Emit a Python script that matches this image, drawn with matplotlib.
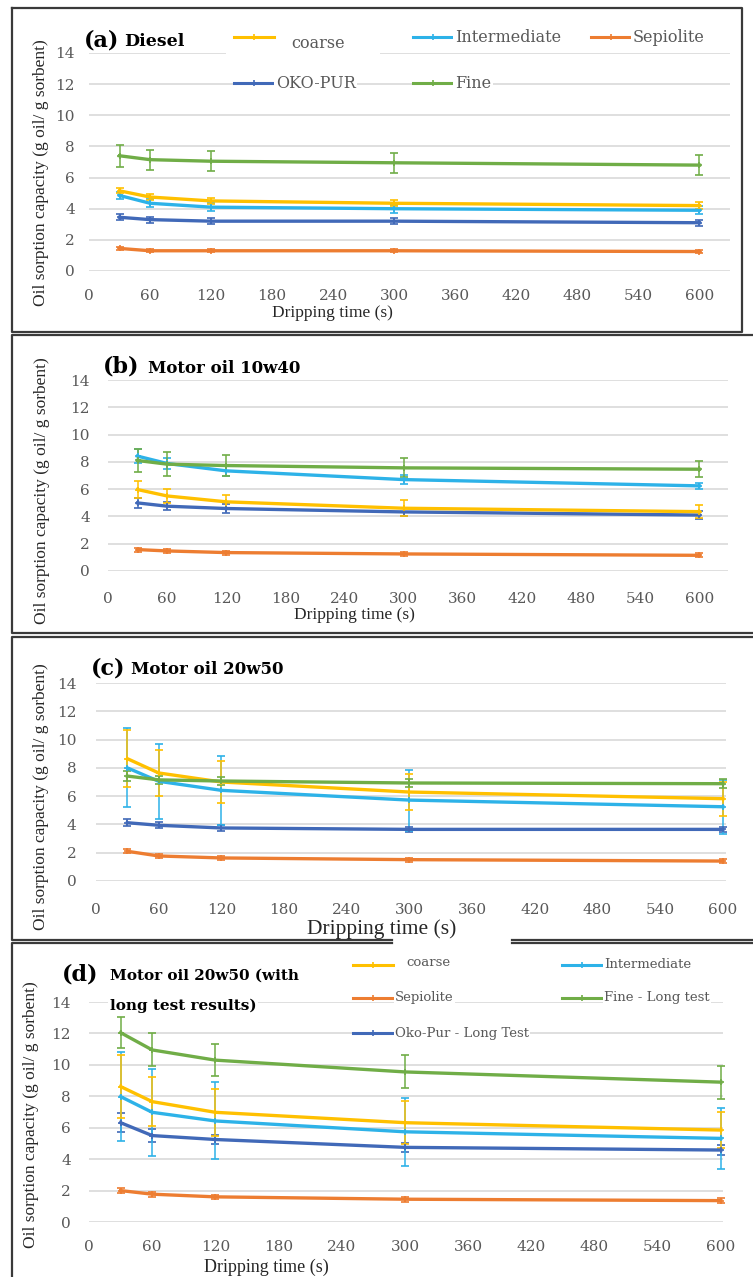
import matplotlib.pyplot as plt
from matplotlib.lines import Line2D
from matplotlib.patches import Rectangle

W, H = 753, 1277

time_s = [30, 60, 120, 300, 600]
x_ticks = list(range(0, 601, 60))
y_ticks = list(range(0, 15, 2))

# (a) Diesel
diesel_coarse = [5.15, 4.75, 4.5, 4.35, 4.2]
diesel_coarse_err = [0.15, 0.2, 0.2, 0.2, 0.2]
diesel_inter = [4.85, 4.35, 4.1, 4.0, 3.9]
diesel_inter_err = [0.25, 0.25, 0.25, 0.25, 0.25]
diesel_sepio = [1.45, 1.3, 1.3, 1.3, 1.25]
diesel_sepio_err = [0.1, 0.1, 0.1, 0.1, 0.1]
diesel_oko = [3.45, 3.3, 3.2, 3.2, 3.1]
diesel_oko_err = [0.2, 0.2, 0.2, 0.2, 0.2]
diesel_fine = [7.4, 7.15, 7.05, 6.95, 6.8]
diesel_fine_err = [0.7, 0.65, 0.65, 0.65, 0.65]

# (b) Motor oil 10w40
m1040_coarse = [5.97, 5.5, 5.07, 4.6, 4.35]
m1040_coarse_err = [0.6, 0.5, 0.5, 0.6, 0.5]
m1040_inter = [8.42, 7.88, 7.34, 6.7, 6.24]
m1040_inter_err = [0.5, 0.4, 0.4, 0.35, 0.2]
m1040_sepio = [1.57, 1.47, 1.35, 1.25, 1.15]
m1040_sepio_err = [0.15, 0.15, 0.15, 0.15, 0.15]
m1040_oko = [4.99, 4.75, 4.58, 4.33, 4.1]
m1040_oko_err = [0.35, 0.3, 0.3, 0.3, 0.3]
m1040_fine = [8.1, 7.83, 7.73, 7.56, 7.46]
m1040_fine_err = [0.85, 0.9, 0.75, 0.7, 0.6]

# (c) Motor oil 20w50
m2050_coarse = [8.65, 7.64, 7.0, 6.29, 5.82]
m2050_coarse_err = [2.0, 1.6, 1.5, 1.3, 1.2]
m2050_inter = [8.0, 7.05, 6.41, 5.72, 5.25]
m2050_inter_err = [2.8, 2.65, 2.45, 2.15, 1.9]
m2050_sepio = [2.1, 1.77, 1.63, 1.51, 1.41]
m2050_sepio_err = [0.15, 0.15, 0.15, 0.15, 0.15]
m2050_oko = [4.12, 3.94, 3.75, 3.65, 3.65]
m2050_oko_err = [0.25, 0.2, 0.2, 0.15, 0.15]
m2050_fine = [7.42, 7.15, 7.07, 6.93, 6.88]
m2050_fine_err = [0.35, 0.3, 0.3, 0.3, 0.3]

# (d) Motor oil 20w50 with long tests
long_coarse = [8.62, 7.66, 6.98, 6.32, 5.85]
long_coarse_err = [2.0, 1.55, 1.5, 1.35, 1.15]
long_inter = [7.98, 6.98, 6.43, 5.74, 5.32]
long_inter_err = [2.85, 2.75, 2.45, 2.15, 1.95]
long_sepio = [2.0, 1.77, 1.6, 1.45, 1.36]
long_sepio_err = [0.15, 0.15, 0.15, 0.15, 0.15]
long_oko = [6.32, 5.5, 5.25, 4.75, 4.58]
long_oko_err = [0.6, 0.4, 0.3, 0.3, 0.3]
long_fine = [12.05, 10.95, 10.3, 9.55, 8.9]
long_fine_err = [1.0, 1.05, 1.0, 1.05, 1.05]

YELLOW = '#FFC000'
LBLUE = '#2DB2E8'
ORANGE = '#ED7D31'
DBLUE = '#4169B8'
GREEN = '#70AD47'
GRAY = '#595959'
SERIF = 'DejaVu Serif'
LSERIF = 'Liberation Serif'

fig = plt.figure(figsize=(W / 100, H / 100), dpi=100)


def fig_text(x, y, s, **kw):
    return fig.text(x / W, 1 - y / H, s, **kw)


def fig_line(xs, ys, **kw):
    fig.add_artist(Line2D([x / W for x in xs], [1 - y / H for y in ys],
                          transform=fig.transFigure, **kw))


def make_axes(left, top, right, bottom, xmax, padx, pady):
    ax = fig.add_axes([left / W, 1 - bottom / H, (right - left) / W, (bottom - top) / H])
    ax.set_xlim(0, xmax)
    ax.set_ylim(0, 14)
    ax.set_xticks(x_ticks)
    ax.set_yticks(y_ticks)
    ax.grid(axis='y', color='#D9D9D9', lw=1.2)
    ax.set_axisbelow(True)
    for sp in ax.spines.values():
        sp.set_visible(False)
    ax.tick_params(axis='x', length=0, pad=padx, labelsize=11, labelcolor=GRAY)
    ax.tick_params(axis='y', length=0, pad=pady, labelsize=11, labelcolor=GRAY)
    for lab in ax.get_xticklabels() + ax.get_yticklabels():
        lab.set_family(SERIF)
    ax.patch.set_alpha(0)
    return ax


def plot_series(ax, y, err, color):
    ax.errorbar(time_s, y, yerr=err, color=color, lw=2.4, marker='+', ms=5,
                mew=1.2, elinewidth=1.1, capsize=3, capthick=1.1, clip_on=False)


def legend_entry(x, y, color, label, size, ty=None, tx=None, length=40):
    fig_line([x, x + length], [y, y], color=color, lw=2.2, zorder=3)
    fig_line([x + length / 2], [y], color=color, marker='+', ms=5, mew=1.2, lw=0, zorder=3)
    fig_text(x + length + 2 if tx is None else tx, y if ty is None else ty, label,
             ha='left', va='center', fontsize=size, color=GRAY, family=SERIF, zorder=3,
             bbox=dict(boxstyle='square,pad=0.1', fc='white', ec='none'))


def panel_labels(ylab_x, ylab_y, xlab_x, xlab_y, xlab_size):
    fig_text(ylab_x, ylab_y, 'Oil sorption capacity (g oil/ g sorbent)', rotation=90,
             ha='center', va='center', fontsize=12.5, family=LSERIF, color='#262626')
    fig_text(xlab_x, xlab_y, 'Dripping time (s)', ha='center', va='center',
             fontsize=xlab_size, family=LSERIF, color='#262626')


# ---- panel borders
fig_line([12, 742, 742, 12, 12], [8, 8, 332, 332, 8], color='#3a3a3a', lw=1.6)
fig_line([753, 12, 12, 753], [335, 335, 633, 633], color='#3a3a3a', lw=1.6)
fig_line([753, 12, 12, 392], [637, 637, 940, 940], color='#3a3a3a', lw=1.6)
fig_line([512, 753], [940, 940], color='#3a3a3a', lw=1.6)
fig_line([392, 12, 12], [943, 943, 1280], color='#3a3a3a', lw=1.6)
fig_line([512, 753], [943, 943], color='#3a3a3a', lw=1.6)

# ---- (a) Diesel
ax = make_axes(89, 53, 730, 271, 630, 13, 10)
plot_series(ax, diesel_sepio, diesel_sepio_err, ORANGE)
plot_series(ax, diesel_oko, diesel_oko_err, DBLUE)
plot_series(ax, diesel_inter, diesel_inter_err, LBLUE)
plot_series(ax, diesel_coarse, diesel_coarse_err, YELLOW)
plot_series(ax, diesel_fine, diesel_fine_err, GREEN)
fig.add_artist(Rectangle((226 / W, 1 - 62 / H), 154 / W, 34 / H, transform=fig.transFigure,
                         fc='white', ec='none', zorder=2))
fig_text(84, 40, '(a)', fontsize=16, fontweight='bold', family=SERIF, va='center')
fig_text(124, 42, 'Diesel', fontsize=12.5, fontweight='bold', family=SERIF, va='center')
legend_entry(234, 37, YELLOW, 'coarse', 11.5, ty=44, tx=291)
legend_entry(413, 37, LBLUE, 'Intermediate', 11.5)
legend_entry(591, 37, ORANGE, 'Sepiolite', 11.5)
legend_entry(234, 83, DBLUE, 'OKO-PUR', 11.5)
legend_entry(413, 83, GREEN, 'Fine', 11.5)
panel_labels(41, 173, 332, 313, 12.5)

# ---- (b) Motor oil 10w40
ax = make_axes(108, 380, 728, 571, 629, 15, 13)
plot_series(ax, m1040_sepio, m1040_sepio_err, ORANGE)
plot_series(ax, m1040_oko, m1040_oko_err, DBLUE)
plot_series(ax, m1040_coarse, m1040_coarse_err, YELLOW)
plot_series(ax, m1040_inter, m1040_inter_err, LBLUE)
plot_series(ax, m1040_fine, m1040_fine_err, GREEN)
fig_text(103, 367, '(b)', fontsize=16, fontweight='bold', family=SERIF, va='center')
fig_text(148, 369, 'Motor oil 10w40', fontsize=12, fontweight='bold', family=SERIF, va='center')
panel_labels(42, 491, 354, 615, 12.5)

# ---- (c) Motor oil 20w50
ax = make_axes(96, 683, 726, 881, 603, 16, 14)
plot_series(ax, m2050_sepio, m2050_sepio_err, ORANGE)
plot_series(ax, m2050_oko, m2050_oko_err, DBLUE)
plot_series(ax, m2050_inter, m2050_inter_err, LBLUE)
plot_series(ax, m2050_coarse, m2050_coarse_err, YELLOW)
plot_series(ax, m2050_fine, m2050_fine_err, GREEN)
fig_text(91, 668, '(c)', fontsize=16, fontweight='bold', family=SERIF, va='center')
fig_text(131, 670, 'Motor oil 20w50', fontsize=12, fontweight='bold', family=SERIF, va='center')
panel_labels(41, 797, 382, 929, 15.5)

# ---- (d) Motor oil 20w50 with long test results
ax = make_axes(89, 1002, 723, 1222, 602, 13, 13)
plot_series(ax, long_sepio, long_sepio_err, ORANGE)
plot_series(ax, long_oko, long_oko_err, DBLUE)
plot_series(ax, long_inter, long_inter_err, LBLUE)
plot_series(ax, long_coarse, long_coarse_err, YELLOW)
plot_series(ax, long_fine, long_fine_err, GREEN)
fig_text(62, 975, '(d)', fontsize=16, fontweight='bold', family=SERIF, va='center')
fig_text(110, 976, 'Motor oil 20w50 (with', fontsize=11, fontweight='bold', family=SERIF,
         va='center')
fig_text(110, 1006, 'long test results)', fontsize=11, fontweight='bold', family=SERIF,
         va='center', bbox=dict(boxstyle='square,pad=0.1', fc='white', ec='none'))
legend_entry(353, 965, YELLOW, 'coarse', 9.5, ty=962, tx=406)
legend_entry(562, 965, LBLUE, 'Intermediate', 9.5)
legend_entry(353, 998, ORANGE, 'Sepiolite', 9.5)
legend_entry(562, 998, GREEN, 'Fine - Long test', 9.5)
legend_entry(353, 1033, DBLUE, 'Oko-Pur - Long Test', 9.5)
panel_labels(31, 1115, 266, 1267, 13)

fig.savefig('out.png', dpi=100)
